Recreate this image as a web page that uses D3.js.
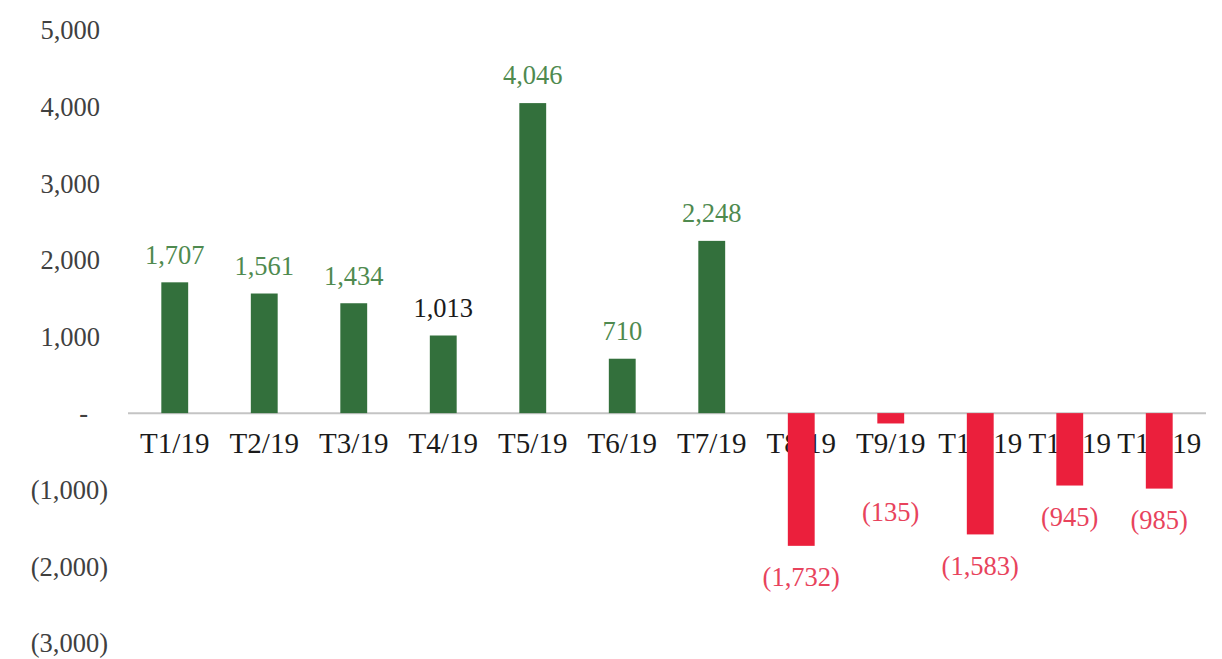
<!DOCTYPE html>
<html>
<head>
<meta charset="utf-8">
<script src="https://cdn.jsdelivr.net/npm/d3@7"></script>
<style>
  body { margin: 0; background: #fff; }
  text { font-family: "Liberation Serif", "Times New Roman", serif; }
</style>
</head>
<body>
<svg id="chart" width="1222" height="659"></svg>
<script>
// data
var months = ["T1/19", "T2/19", "T3/19", "T4/19", "T5/19", "T6/19",
              "T7/19", "T8/19", "T9/19", "T10/19", "T11/19", "T12/19"];
var values = [1707, 1561, 1434, 1013, 4046, 710, 2248, -1732, -135, -1583, -945, -985];
var yTicks = [5000, 4000, 3000, 2000, 1000, 0, -1000, -2000, -3000];

var svg = d3.select("#chart");

var x = d3.scaleBand()
    .domain(months)
    .range([130, 1204])
    .paddingInner(0.7)
    .paddingOuter(0.35);

var y = d3.scaleLinear()
    .domain([-3000, 5000])
    .range([643, 30]);

var fmt = d3.format(",");

// accounting style number, like excel
function acct(v) {
    if (v == 0) return "-";
    if (v < 0) return "(" + fmt(-v) + ")";
    return fmt(v);
}

// y tick labels
svg.append("g")
    .selectAll("text")
    .data(yTicks)
    .enter().append("text")
    .attr("x", function (d) {
        if (d == 0) return 88;
        if (d < 0) return 108;
        return 100;
    })
    .attr("y", function (d) { return y(d); })
    .attr("dy", "0.35em")
    .attr("text-anchor", "end")
    .style("font-size", "26.5px")
    .style("fill", "#404040")
    .text(acct);

// zero line
svg.append("line")
    .attr("x1", 128)
    .attr("x2", 1206)
    .attr("y1", y(0))
    .attr("y2", y(0))
    .style("stroke", "#c4c4c4")
    .style("stroke-width", 2);

// category labels (drawn under the bars, as in the original)
svg.append("g")
    .selectAll("text")
    .data(months)
    .enter().append("text")
    .attr("x", function (d) { return x(d) + x.bandwidth() / 2; })
    .attr("y", y(0) + 30)
    .attr("dy", "0.35em")
    .attr("text-anchor", "middle")
    .style("font-size", "29px")
    .style("fill", "#1a1a1a")
    .text(function (d) { return d; });

// bars
svg.append("g")
    .selectAll("rect")
    .data(values)
    .enter().append("rect")
    .attr("x", function (d, i) { return x(months[i]); })
    .attr("width", x.bandwidth())
    .attr("y", function (d) { return d >= 0 ? y(d) : y(0); })
    .attr("height", function (d) { return Math.abs(y(d) - y(0)); })
    .style("fill", function (d) { return d >= 0 ? "#33703c" : "#eb1f3c"; });

// value labels
svg.append("g")
    .selectAll("text")
    .data(values)
    .enter().append("text")
    .attr("x", function (d, i) { return x(months[i]) + x.bandwidth() / 2; })
    .attr("y", function (d) {
        if (d >= 0) return y(d) - 28;
        // small negatives were pushed below the month label
        return Math.max(y(d) + 31, 512);
    })
    .attr("dy", "0.35em")
    .attr("text-anchor", "middle")
    .style("font-size", "26.5px")
    .style("fill", function (d, i) {
        if (months[i] == "T4/19") return "#1a1a1a";
        return d >= 0 ? "#4f8a4f" : "#e8435c";
    })
    .text(acct);
</script>
</body>
</html>
